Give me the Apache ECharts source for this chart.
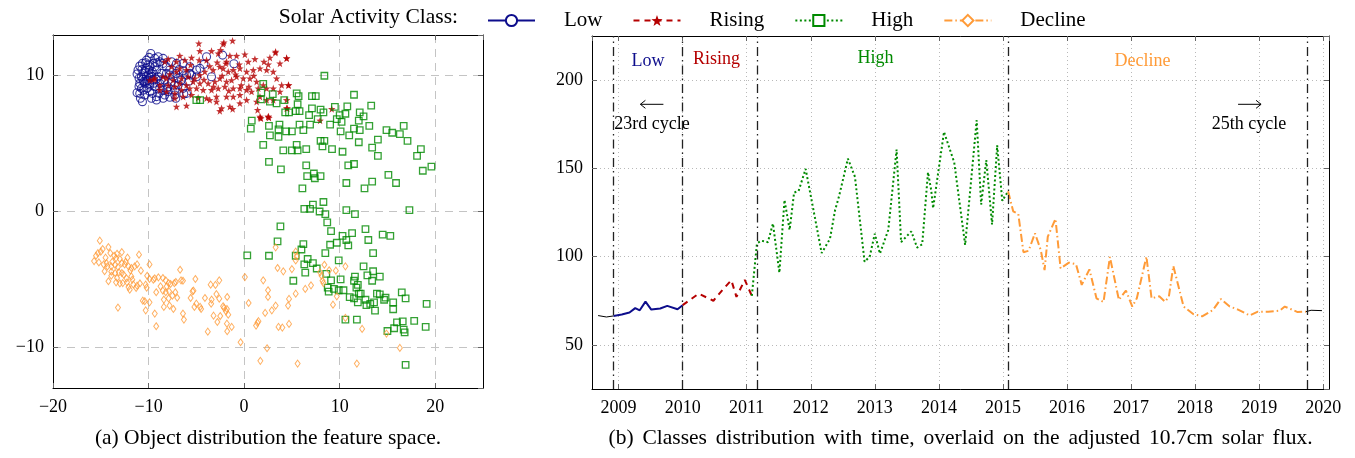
<!DOCTYPE html>
<html>
<head>
<meta charset="utf-8">
<script src="https://cdn.jsdelivr.net/npm/echarts@6.0.0/dist/echarts.min.js"></script>
<style>
  html, body { margin: 0; padding: 0; background: #fff; }
  #chart { width: 1355px; height: 458px; }
</style>
</head>
<body>
<div id="chart"></div>
<script>
// ---------------- data: feature space (panel a) ----------------
const featLow = [
  [-9.77,11.64],[-9.94,11.35],[-10.22,11.15],[-10.64,10.91],[-10.92,10.71],[-11.1,10.42],[-11.2,10.13],
  [-10.99,9.81],[-10.92,9.44],[-10.75,9.07],[-11.2,8.75],[-10.85,8.34],[-10.64,8.09],[-10.4,8.58],
  [-9.87,8.83],[-9.17,8.46],[-9.17,8.21],[-8.48,8.95],[-7.78,8.41],[-7.25,8.58],[-7.15,8.34],[-6.31,8.65],
  [-6.38,9.07],[-6.9,9.32],[-6.55,9.68],[-6.03,10.05],[-6.38,10.37],[-6.8,10.46],[-7.15,10.17],[-7.78,10.42],
  [-8.13,10.66],[-8.48,11.28],[-9.0,11.4],[-9.35,11.28],[-9.52,10.91],[-9.87,10.66],[-10.3,10.54],[-10.57,10.17],
  [-10.22,9.93],[-10.4,9.44],[-9.87,9.32],[-9.35,9.19],[-8.83,9.44],[-8.3,9.68],[-7.95,9.19],[-7.6,9.56],
  [-7.43,9.93],[-9.17,10.42],[-8.65,10.17],[-9.7,10.17],[-9.52,9.68],[-9.0,9.93],[-10.05,9.68],[-8.13,10.17],
  [-5.68,10.17],[-7.08,10.91],[-6.38,10.91],[-5.68,10.66],[-7.6,11.03],[-8.48,10.91],[-4.21,10.84],[-2.25,11.52],
  [-1.07,10.88],[-9.94,10.42],[-9.35,10.66],[-8.83,11.03],[-7.95,8.83],[-8.3,8.58],[-9.59,8.7],[-10.15,9.07],
  [-10.5,8.95],[-10.75,9.93],[-10.3,10.96],[-10.92,8.7],[-9.7,8.34],[-8.83,9.07],[-7.78,10.05],[-7.25,8.95],
  [-10.2,9.6],[-9.8,9.9],[-10.5,9.55],[-9.6,10.3],[-10.0,10.05],[-10.35,10.3],[-9.9,9.45],[-9.45,9.45],
  [-10.6,9.75],[-9.65,9.95],[-10.05,10.8],[-9.2,9.75],[-8.7,9.7],[-9.1,10.95],[-10.7,10.45],[-11.0,9.2],
  [-8.9,8.7],[-8.1,9.0],[-7.3,9.3],[-6.9,9.8],[-3.93,11.4],[-5.5,10.05],[-4.98,9.93],[-4.63,10.54],
  [-3.41,9.93],[-4.98,10.42],[-5.8,9.6],[-8.47,8.34],[-6.03,8.7]
];
const featRising = [
  [-1.21,12.58],[-2.12,12.45],[-4.74,12.38],[-4.63,11.82],[-3.41,11.82],[-2.71,11.64],[-2.47,11.89],[-1.49,11.47],
  [-0.79,11.47],[0.08,11.57],[3.3,11.77],[2.7,11.33],[4.45,11.28],[3.75,10.91],[1.13,11.23],[2.53,10.83],
  [2.08,11.03],[0.43,11.03],[-0.51,10.83],[-1.84,11.03],[-2.82,10.98],[-3.93,11.15],[-4.7,11.15],[-5.5,11.33],
  [-6.2,11.15],[-6.73,11.47],[-7.08,11.03],[-7.95,11.23],[-8.3,11.03],[-7.6,10.66],[-6.73,10.54],[-6.03,10.42],
  [-7.08,10.3],[-7.78,10.1],[-8.47,9.93],[-8.12,9.8],[-7.43,9.68],[-6.55,9.8],[-5.86,9.93],[-5.16,9.8],
  [-4.63,10.05],[-4.11,10.3],[-3.24,10.42],[-2.54,10.66],[-2.19,10.54],[-1.66,10.3],[-1.14,10.42],[-0.44,10.54],
  [0.26,10.3],[0.96,10.42],[1.66,10.54],[2.36,10.42],[3.05,10.3],[3.4,9.8],[3.93,9.31],[4.63,9.31],
  [3.05,9.07],[2.36,9.07],[2.01,9.31],[1.31,9.56],[0.61,9.8],[-0.09,9.8],[-0.79,9.93],[-1.31,9.68],
  [-1.84,9.56],[-2.54,9.8],[-3.06,9.56],[-3.76,9.44],[-4.63,9.44],[-5.33,9.56],[-6.03,9.31],[-6.73,9.44],
  [-7.25,9.19],[-7.95,9.31],[-8.82,9.31],[-9.35,9.8],[-9.87,9.68],[-8.82,8.95],[-8.12,8.83],[-7.25,8.7],
  [-6.55,8.95],[-5.68,9.07],[-4.98,9.07],[-4.28,8.95],[-3.41,8.95],[-2.71,9.07],[-2.01,9.19],[-1.14,9.07],
  [-0.44,9.07],[0.26,8.95],[0.78,8.83],[1.48,9.07],[1.66,8.46],[-0.44,8.58],[-1.14,8.46],[-1.84,8.46],
  [-2.89,8.46],[-3.93,8.34],[-4.81,8.38],[-5.5,8.58],[-6.38,8.46],[-7.25,8.34],[-2.89,8.09],[-3.59,8.21],
  [-1.49,7.72],[-0.44,7.97],[0.26,8.21],[2.36,8.21],[1.31,8.09],[-2.54,7.4],[-7.08,7.72],[-6.03,7.8],
  [1.66,6.99],[2.53,6.99],[3.05,8.21],[3.75,8.83],[4.45,8.21],[4.45,7.6],[2.6,6.9],[1.7,6.9],
  [4.66,9.3],[3.27,11.7],[4.45,11.3],[9.17,7.55],[7.95,6.7],[4.52,7.6],[1.76,6.86],[2.53,6.98],
  [1.41,7.48],[-9.45,9.73],[-2.36,7.6],[-1.2,7.55],[-2.19,12.33],[-0.3,9.3],[-1.6,8.9],[-3.2,9.2],
  [-0.9,10.1],[-2.3,10.0],[-4.2,9.7],[-5.6,10.8],[-3.6,10.7],[0.5,9.2],[-1.9,10.9],[1.0,10.0]
];
const featHigh = [
  [8.4,10.0],[11.5,8.6],[7.1,8.5],[7.5,8.5],[5.5,8.7],[5.7,8.5],[1.8,8.75],[3.0,8.65],
  [4.2,8.2],[2.7,8.1],[3.4,7.97],[5.6,7.9],[1.75,8.26],[13.3,7.8],[10.8,7.75],[9.5,7.7],
  [7.1,7.6],[8.0,7.5],[5.4,7.4],[5.8,7.4],[4.3,7.3],[4.7,7.3],[12.1,7.3],[8.3,7.3],
  [10.0,7.1],[10.6,7.2],[9.7,6.8],[10.2,6.6],[12.0,6.7],[12.5,7.0],[6.8,7.1],[0.8,6.7],
  [2.6,6.3],[3.7,6.4],[5.8,6.4],[6.9,6.4],[6.2,6.0],[9.0,6.4],[7.7,6.8],[0.7,6.1],
  [3.6,6.05],[4.4,5.9],[5.0,5.9],[10.1,5.9],[11.5,6.1],[12.1,6.0],[13.1,6.3],[14.9,6.0],
  [15.5,5.8],[16.3,5.7],[16.7,6.3],[2.7,5.6],[3.6,5.5],[11.0,5.6],[17.1,5.2],[14.0,5.3],
  [12.0,5.1],[8.0,5.2],[8.4,5.2],[5.5,4.9],[8.2,4.8],[2.0,4.9],[4.1,4.5],[5.0,4.5],
  [5.6,4.5],[6.5,4.6],[9.2,4.6],[10.3,4.4],[13.4,4.7],[18.5,4.6],[14.0,4.1],[18.1,4.1],
  [2.6,3.65],[6.5,3.4],[10.9,3.4],[11.5,3.5],[19.6,3.3],[18.7,3.0],[3.85,3.1],[15.1,2.7],
  [15.9,2.1],[13.4,2.2],[12.6,1.7],[10.7,2.1],[6.6,2.6],[7.3,2.8],[7.4,2.45],[8.0,2.6],
  [6.1,1.7],[8.3,0.7],[7.2,0.5],[6.3,0.2],[6.9,0.2],[7.9,0.0],[8.5,-0.2],[10.7,0.1],
  [11.6,-0.2],[17.3,0.1],[8.7,-0.8],[3.8,-1.1],[12.7,-1.3],[9.1,-1.45],[14.5,-1.7],[15.3,-1.8],
  [10.3,-1.8],[11.3,-1.6],[10.7,-2.1],[9.7,-2.3],[9.0,-2.45],[13.0,-2.1],[10.9,-2.5],[3.5,-2.2],
  [6.2,-2.4],[6.0,-2.8],[2.0,9.4],[-5.0,8.2],[-4.6,8.2],
  [0.33,-3.23],[2.6,-3.26],[5.4,-3.26],[6.3,-3.9],[6.4,-4.5],[6.65,-3.5],[7.2,-3.8],[7.6,-4.2],
  [5.15,-5.1],[8.5,-3.06],[9.9,-3.6],[13.5,-3.06],[12.5,-4.04],[13.5,-4.4],[14.2,-4.8],[12.9,-4.7],
  [13.4,-5.1],[11.6,-4.8],[11.5,-5.1],[11.9,-5.4],[11.75,-5.6],[12.0,-6.05],[10.1,-5.0],[9.1,-5.07],
  [9.4,-5.7],[8.75,-5.6],[8.6,-4.6],[8.85,-5.9],[9.9,-5.8],[10.4,-5.8],[11.05,-6.3],[11.5,-6.4],
  [11.9,-6.7],[12.2,-6.05],[12.7,-6.5],[12.8,-6.9],[13.2,-6.8],[13.6,-6.7],[13.9,-6.05],[14.2,-6.1],
  [14.65,-6.5],[14.8,-6.35],[15.6,-6.7],[15.6,-7.2],[16.5,-5.95],[16.9,-6.4],[19.1,-6.8],[13.7,-7.3],
  [10.6,-7.96],[11.8,-7.96],[16.0,-8.16],[16.6,-8.1],[17.8,-8.06],[19.0,-8.5],[15.7,-8.6],[15.0,-8.8],
  [16.7,-8.7],[16.8,-8.9],[16.9,-11.3]
];
const featDecline = [
  [-15.1,-2.15],[-15.3,-3.06],[-15.5,-3.26],[-15.7,-3.65],[-15.2,-3.75],[-14.8,-2.77],[-15.0,-2.96],[-14.2,-2.62],
  [-14.0,-3.06],[-13.6,-3.26],[-13.4,-3.43],[-13.3,-3.11],[-12.8,-2.99],[-12.4,-3.7],[-11.0,-3.18],[-14.7,-3.9],
  [-14.4,-3.8],[-14.3,-4.04],[-13.9,-4.04],[-13.5,-3.94],[-13.2,-4.09],[-12.8,-3.8],[-12.5,-3.9],[-12.1,-4.04],
  [-11.8,-4.16],[-11.9,-4.34],[-11.45,-4.04],[-11.2,-3.9],[-10.8,-4.36],[-13.9,-4.43],[-13.5,-4.53],[-13.1,-4.48],
  [-12.8,-4.53],[-12.6,-4.65],[-13.9,-4.73],[-14.2,-5.14],[-13.4,-5.22],[-13.0,-5.3],[-12.7,-5.27],[-12.3,-4.92],
  [-12.25,-5.22],[-12.1,-5.56],[-11.97,-5.76],[-11.6,-5.37],[-11.3,-5.63],[-11.2,-5.46],[-10.9,-5.3],[-11.8,-4.78],
  [-11.7,-5.02],[-9.9,-3.9],[-10.15,-4.73],[-9.9,-4.97],[-9.5,-5.02],[-9.35,-4.92],[-8.97,-4.85],[-8.5,-4.9],
  [-8.2,-5.07],[-7.9,-5.27],[-8.1,-5.51],[-7.7,-5.34],[-7.3,-5.27],[-7.15,-5.19],[-6.7,-4.29],[-6.6,-5.07],
  [-6.4,-5.1],[-5.1,-4.97],[-3.5,-5.39],[-3.0,-5.41],[-2.6,-5.07],[-10.3,-5.39],[-10.2,-5.61],[-8.75,-5.51],
  [-8.5,-5.83],[-8.2,-5.95],[-7.85,-5.88],[-7.2,-5.95],[-9.2,-5.95],[-10.6,-6.57],[-10.4,-6.61],[-9.9,-6.69],
  [-8.4,-6.49],[-7.9,-6.4],[-7.5,-6.2],[-7.0,-6.35],[-8.4,-7.03],[-7.8,-6.93],[-7.4,-7.18],[-5.3,-5.83],
  [-5.4,-5.88],[-5.6,-6.37],[-5.0,-6.79],[-5.2,-7.03],[-4.6,-7.03],[-4.5,-7.18],[-4.1,-6.37],[-3.4,-6.49],
  [-3.45,-6.79],[-2.9,-6.08],[-2.6,-6.42],[-1.77,-6.3],[-2.2,-6.98],[-2.1,-7.1],[-1.8,-7.18],[-1.9,-7.35],
  [-1.66,-7.6],[-2.5,-7.7],[-3.2,-7.67],[-2.8,-8.14],[-1.8,-8.26],[-1.3,-8.5],[-3.8,-8.85],[-1.77,-8.82],
  [-9.2,-8.45],[-13.2,-7.08],[-9.35,-7.52],[-10.3,-7.28],[-6.4,-7.52],[-6.3,-7.96],[-0.37,-9.63],
  [-14.5,-3.4],[-13.8,-3.7],[-13.0,-3.5],[-12.2,-3.4],[-14.6,-4.4],[-13.3,-4.9],
  [0.08,-4.83],[0.47,-6.74],[1.4,-8.2],[1.5,-8.08],[1.25,-8.4],[2.0,-5.07],[2.5,-5.8],[2.5,-6.3],
  [2.2,-7.47],[2.9,-7.28],[3.3,-6.93],[3.5,-4.16],[4.1,-4.41],[3.6,-8.5],[4.0,-8.55],[4.7,-8.28],
  [4.6,-6.93],[4.7,-6.44],[5.4,-6.05],[5.0,-4.24],[5.4,-2.96],[5.4,-3.6],[5.5,-3.3],[3.3,-2.64],
  [6.4,-5.7],[7.0,-5.44],[8.4,-3.92],[7.95,-4.48],[8.1,-4.73],[8.2,-5.1],[8.3,-5.27],[8.9,-4.33],
  [9.6,-4.36],[9.7,-6.25],[9.3,-6.86],[10.6,-4.04],[10.6,-7.84],[12.35,-8.65],[14.9,-8.99],[16.3,-10.05],
  [2.4,-10.07],[1.7,-11.0],[5.6,-11.2],[11.8,-11.2]
];

// ---------------- data: adjusted 10.7 cm flux (panel b), [decimal year, sfu] ----------------
const fluxCycle23 = [[2008.68,66.6],[2008.81,65.8],[2008.92,66.4]];
const fluxLow = [
  [2008.92,66.4],[2009.05,67.2],[2009.17,68.3],[2009.26,70.8],[2009.33,69.6],[2009.42,74.5],
  [2009.51,70.0],[2009.65,70.6],[2009.76,72.1],[2009.92,70.2],[2010.0,72.5]
];
const fluxRising = [
  [2010.0,72.5],[2010.25,79.0],[2010.48,75.0],[2010.63,81.5],[2010.76,86.6],[2010.84,77.2],
  [2010.97,86.8],[2011.08,77.8]
];
const fluxHigh = [
  [2011.08,77.8],[2011.16,107.5],[2011.23,109.0],[2011.33,108.2],[2011.41,118.7],[2011.51,90.9],
  [2011.59,132.1],[2011.67,115.1],[2011.74,136.3],[2011.81,137.2],[2011.92,149.7],[2012.17,102.0],
  [2012.30,110.1],[2012.38,126.4],[2012.44,134.0],[2012.58,155.5],[2012.69,145.2],[2012.84,97.1],
  [2012.92,100.0],[2013.0,113.0],[2013.08,101.7],[2013.21,115.1],[2013.34,160.7],[2013.41,108.2],
  [2013.57,114.3],[2013.66,105.1],[2013.74,107.0],[2013.83,147.8],[2013.88,137.7],[2013.91,127.4],
  [2014.08,170.7],[2014.24,153.3],[2014.41,106.6],[2014.59,177.3],[2014.66,129.5],[2014.74,154.7],
  [2014.83,118.2],[2014.91,163.0],[2014.99,131.6],[2015.08,137.0]
];
const fluxDecline = [
  [2015.08,137.0],[2015.16,125.7],[2015.24,124.1],[2015.32,102.5],[2015.40,103.3],[2015.50,113.2],
  [2015.59,103.8],[2015.65,92.4],[2015.70,111.3],[2015.82,121.4],[2015.90,93.4],[2016.03,96.6],
  [2016.14,95.7],[2016.23,84.0],[2016.35,92.8],[2016.46,76.4],[2016.57,74.3],[2016.67,99.8],
  [2016.81,75.5],[2016.92,80.8],[2017.02,71.7],[2017.09,76.4],[2017.24,100.0],[2017.32,76.4],
  [2017.44,77.5],[2017.53,74.5],[2017.59,77.3],[2017.66,94.7],[2017.82,71.7],[2017.97,67.5],
  [2018.11,66.2],[2018.28,69.8],[2018.40,76.0],[2018.54,71.7],[2018.67,70.0],[2018.85,66.7],
  [2018.98,68.8],[2019.14,68.8],[2019.32,69.4],[2019.40,71.7],[2019.60,68.6],[2019.73,68.8]
];
const fluxCycle25 = [[2019.73,68.8],[2019.81,69.6],[2019.98,69.4]];

// class boundaries (decimal years) and labels
const classBoundaries = [2008.92, 2010.0, 2011.17, 2015.08, 2019.75];
const classNames = ['Low', 'Rising', 'High', 'Decline'];
const classLabelPos = [[2009.46, 210.7], [2010.53, 211.9], [2013.01, 212.4], [2017.18, 210.7]];
const cycleNotes = [
  { text: '23rd cycle', at: [2009.52, 175.0], arrow: 'left', arrowAt: [2009.52, 186.3] },
  { text: '25th cycle', at: [2018.84, 175.0], arrow: 'right', arrowAt: [2018.85, 186.3] }
];
const captionA = '(a) Object distribution the feature space.';
const captionB = '(b) Classes distribution with time, overlaid on the adjusted 10.7cm solar flux.';

// ---------------- styling ----------------
const C = { low: '#0d0d8c', rising: '#b50000', high: '#008a00', decline: '#ff9b38' };
const SERIF = 'Liberation Serif, Times New Roman, serif';
const STAR = 'path://M0,-10L2.35,-3.24L9.51,-3.09L3.8,1.24L5.88,8.09L0,4L-5.88,8.09L-3.8,1.24L-9.51,-3.09L-2.35,-3.24Z';
const minus = v => (v < 0 ? '\u2212' + Math.abs(v) : String(v));

function frameAxis(extra) {
  return Object.assign({
    type: 'value',
    axisLine: { show: true, onZero: false, lineStyle: { color: '#000', width: 1 } },
    axisTick: { show: true, inside: true, length: 5, lineStyle: { color: '#666' } },
    axisLabel: { show: false },
    splitLine: { show: false }
  }, extra);
}
const tickFont = { fontFamily: SERIF, fontSize: 18, color: '#000' };
const dashedGrid = { show: true, lineStyle: { color: '#c4c4c4', width: 1, type: [8, 6] } };
const dottedGrid = { show: true, lineStyle: { color: '#b9b9b9', width: 1, type: [1, 3] } };

const chart = echarts.init(document.getElementById('chart'), null, { renderer: 'canvas' });

const option = {
  animation: false,
  backgroundColor: '#fff',
  grid: [
    { left: 53, top: 35, width: 430, height: 353 },
    { left: 592, top: 36, width: 737, height: 353 }
  ],
  xAxis: [
    frameAxis({ gridIndex: 0, position: 'bottom', min: -20, max: 25, minInterval: 10, maxInterval: 10,
      axisLabel: Object.assign({ show: true, margin: 10, formatter: minus, showMaxLabel: false }, tickFont),
      splitLine: dashedGrid }),
    frameAxis({ gridIndex: 0, position: 'top', min: -20, max: 25, minInterval: 10, maxInterval: 10 }),
    frameAxis({ gridIndex: 1, position: 'bottom', min: 2008.585, max: 2020.09, minInterval: 1, maxInterval: 1,
      axisLabel: Object.assign({ show: true, margin: 10, showMinLabel: false, showMaxLabel: false,
        formatter: v => String(Math.round(v)) }, tickFont),
      splitLine: dottedGrid }),
    frameAxis({ gridIndex: 1, position: 'top', min: 2008.585, max: 2020.09, minInterval: 1, maxInterval: 1 })
  ],
  yAxis: [
    frameAxis({ gridIndex: 0, position: 'left', min: -13, max: 13, minInterval: 10, maxInterval: 10,
      axisLabel: Object.assign({ show: true, margin: 9, formatter: minus, showMinLabel: false, showMaxLabel: false }, tickFont),
      splitLine: dashedGrid }),
    frameAxis({ gridIndex: 0, position: 'right', min: -13, max: 13, minInterval: 10, maxInterval: 10 }),
    frameAxis({ gridIndex: 1, position: 'left', min: 25, max: 225, minInterval: 50, maxInterval: 50,
      axisLabel: Object.assign({ show: true, margin: 9, showMinLabel: false, showMaxLabel: false }, tickFont),
      splitLine: dottedGrid }),
    frameAxis({ gridIndex: 1, position: 'right', min: 25, max: 225, minInterval: 50, maxInterval: 50 })
  ],
  legend: {
    data: classNames,
    left: 482, top: 5,
    itemWidth: 47, itemHeight: 14, itemGap: 30,
    selectedMode: false,
    textStyle: { fontFamily: SERIF, fontSize: 21, color: '#000', padding: [0, 0, 0, 24] }
  },
  series: [
    // flux segments (listed first so the legend shows line + marker icons)
    { name: 'Low', type: 'line', xAxisIndex: 2, yAxisIndex: 2, data: fluxLow,
      symbol: 'emptyCircle', showSymbol: false, color: C.low,
      lineStyle: { color: C.low, width: 2 } },
    { name: 'Rising', type: 'line', xAxisIndex: 2, yAxisIndex: 2, data: fluxRising,
      symbol: STAR, showSymbol: false, color: C.rising,
      lineStyle: { color: C.rising, width: 2, type: [6, 5] } },
    { name: 'High', type: 'line', xAxisIndex: 2, yAxisIndex: 2, data: fluxHigh,
      symbol: 'emptyRect', showSymbol: false, color: C.high,
      lineStyle: { color: C.high, width: 2, type: [2, 2.5] } },
    { name: 'Decline', type: 'line', xAxisIndex: 2, yAxisIndex: 2, data: fluxDecline,
      symbol: 'emptyDiamond', showSymbol: false, color: C.decline,
      lineStyle: { color: C.decline, width: 2, type: [8, 3, 1.5, 3] } },
    { name: 'Cycle 23', type: 'line', xAxisIndex: 2, yAxisIndex: 2, data: fluxCycle23,
      symbol: 'none', lineStyle: { color: '#000', width: 1 },
      markLine: {
        silent: true, symbol: 'none', label: { show: false },
        lineStyle: { color: '#222', width: 1.3, type: [9, 4, 1.5, 4] },
        data: classBoundaries.map(x => ({ xAxis: x }))
      } },
    { name: 'Cycle 25', type: 'line', xAxisIndex: 2, yAxisIndex: 2, data: fluxCycle25,
      symbol: 'none', lineStyle: { color: '#000', width: 1 } },

    // feature-space scatter
    { name: 'Low', type: 'scatter', xAxisIndex: 0, yAxisIndex: 0, data: featLow,
      symbol: 'circle', symbolSize: 8,
      itemStyle: { color: 'rgba(255,255,255,0)', borderColor: C.low, borderWidth: 1.1 } },
    { name: 'Rising', type: 'scatter', xAxisIndex: 0, yAxisIndex: 0, data: featRising,
      symbol: STAR, symbolSize: 7.5, itemStyle: { color: C.rising } },
    { name: 'High', type: 'scatter', xAxisIndex: 0, yAxisIndex: 0, data: featHigh,
      symbol: 'rect', symbolSize: 6.5,
      itemStyle: { color: 'rgba(255,255,255,0)', borderColor: C.high, borderWidth: 1.3 } },
    { name: 'Decline', type: 'scatter', xAxisIndex: 0, yAxisIndex: 0, data: featDecline,
      symbol: 'diamond', symbolSize: [5, 7],
      itemStyle: { color: 'rgba(255,255,255,0)', borderColor: C.decline, borderWidth: 1 } }
  ]
};
chart.setOption(option);

// ---------------- text annotations ----------------
const px = p => chart.convertToPixel({ xAxisIndex: 2, yAxisIndex: 2 }, p);
const classColors = [C.low, C.rising, C.high, C.decline];
const CAPTION_FONT = '21.5px ' + SERIF;

// lay out a caption word by word, stretched to a given line width (justified)
function justifiedLine(text, cx, cy, width) {
  const ctx = document.createElement('canvas').getContext('2d');
  ctx.font = CAPTION_FONT;
  const words = text.split(' ');
  const widths = words.map(w => ctx.measureText(w).width);
  const total = widths.reduce((a, b) => a + b, 0);
  const gap = (width - total) / (words.length - 1);
  let x = cx - width / 2;
  return words.map((w, i) => {
    const el = { type: 'text', x: x, y: cy,
      style: { text: w, font: CAPTION_FONT, fill: '#000', align: 'left', verticalAlign: 'middle' } };
    x += widths[i] + gap;
    return el;
  });
}

const graphics = [
  { type: 'text', x: 458, y: 17,
    style: { text: 'Solar Activity Class:', font: '21.5px ' + SERIF, fill: '#000',
      align: 'right', verticalAlign: 'middle' } },
  { type: 'text', x: 268, y: 438,
    style: { text: captionA, font: CAPTION_FONT, fill: '#000', align: 'center', verticalAlign: 'middle' } }
].concat(justifiedLine(captionB, 960.5, 438, 704));

classNames.forEach((n, i) => {
  const p = px(classLabelPos[i]);
  graphics.push({ type: 'text', x: p[0], y: p[1],
    style: { text: n, font: '18px ' + SERIF, fill: classColors[i], align: 'center', verticalAlign: 'middle' } });
});
cycleNotes.forEach(note => {
  const p = px(note.at);
  graphics.push({ type: 'text', x: p[0], y: p[1],
    style: { text: note.text, font: '18px ' + SERIF, fill: '#000', align: 'center', verticalAlign: 'middle' } });
  const a = px(note.arrowAt);
  const half = 11.5, dir = note.arrow === 'left' ? -1 : 1;
  const tip = a[0] + dir * half;
  graphics.push({ type: 'polyline', shape: { points: [[a[0] - half, a[1]], [a[0] + half, a[1]]] },
    style: { stroke: '#000', lineWidth: 1 } });
  graphics.push({ type: 'polyline',
    shape: { points: [[tip - dir * 5, a[1] - 4], [tip, a[1]], [tip - dir * 5, a[1] + 4]] },
    style: { stroke: '#000', lineWidth: 1, fill: null } });
});
chart.setOption({ graphic: graphics });
</script>
</body>
</html>
